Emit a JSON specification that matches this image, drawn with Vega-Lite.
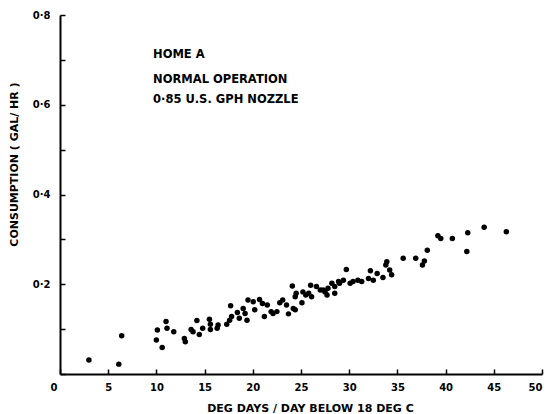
{
  "$schema": "https://vega.github.io/schema/vega-lite/v6.json",
  "width": 482,
  "height": 359,
  "autosize": {"type": "none"},
  "padding": {"left": 60, "top": 15, "right": 8, "bottom": 40},
  "background": "white",
  "config": {
    "view": {"stroke": null},
    "font": "DejaVu Sans",
    "axis": {
      "grid": false,
      "domainColor": "black",
      "domainWidth": 2,
      "tickColor": "black",
      "tickWidth": 1.5,
      "tickSize": -5,
      "labelFont": "DejaVu Sans",
      "labelFontWeight": "bold",
      "labelFontSize": 10,
      "labelColor": "black",
      "titleFont": "DejaVu Sans",
      "titleFontWeight": "bold",
      "titleFontSize": 11,
      "titleColor": "black"
    }
  },
  "datasets": {
    "runs": [
      {"dd": 3.0, "gph": 0.031}, {"dd": 6.1, "gph": 0.022}, {"dd": 6.4, "gph": 0.085},
      {"dd": 10.0, "gph": 0.076}, {"dd": 10.1, "gph": 0.098}, {"dd": 10.6, "gph": 0.059},
      {"dd": 11.0, "gph": 0.117}, {"dd": 11.1, "gph": 0.102}, {"dd": 11.8, "gph": 0.094},
      {"dd": 12.9, "gph": 0.079}, {"dd": 13.0, "gph": 0.072}, {"dd": 13.6, "gph": 0.099},
      {"dd": 13.8, "gph": 0.094}, {"dd": 14.2, "gph": 0.119}, {"dd": 14.45, "gph": 0.088},
      {"dd": 14.8, "gph": 0.102}, {"dd": 15.5, "gph": 0.122}, {"dd": 15.6, "gph": 0.111},
      {"dd": 15.6, "gph": 0.099}, {"dd": 16.3, "gph": 0.102}, {"dd": 16.4, "gph": 0.109},
      {"dd": 17.3, "gph": 0.111}, {"dd": 17.6, "gph": 0.12}, {"dd": 17.8, "gph": 0.128},
      {"dd": 17.7, "gph": 0.152}, {"dd": 18.4, "gph": 0.137}, {"dd": 18.6, "gph": 0.124},
      {"dd": 19.0, "gph": 0.146}, {"dd": 19.2, "gph": 0.135}, {"dd": 19.4, "gph": 0.12},
      {"dd": 19.5, "gph": 0.165}, {"dd": 20.05, "gph": 0.161}, {"dd": 20.2, "gph": 0.143},
      {"dd": 20.7, "gph": 0.166}, {"dd": 21.0, "gph": 0.157}, {"dd": 21.2, "gph": 0.128},
      {"dd": 21.5, "gph": 0.154}, {"dd": 21.9, "gph": 0.139}, {"dd": 22.1, "gph": 0.135},
      {"dd": 22.5, "gph": 0.139}, {"dd": 22.8, "gph": 0.159}, {"dd": 23.1, "gph": 0.165},
      {"dd": 23.5, "gph": 0.154}, {"dd": 23.7, "gph": 0.134}, {"dd": 24.1, "gph": 0.196},
      {"dd": 24.4, "gph": 0.143}, {"dd": 24.5, "gph": 0.18}, {"dd": 24.4, "gph": 0.172},
      {"dd": 24.2, "gph": 0.146}, {"dd": 25.1, "gph": 0.159}, {"dd": 25.2, "gph": 0.183},
      {"dd": 25.5, "gph": 0.176}, {"dd": 25.8, "gph": 0.18}, {"dd": 26.1, "gph": 0.172},
      {"dd": 26.0, "gph": 0.198}, {"dd": 26.6, "gph": 0.195}, {"dd": 27.0, "gph": 0.187},
      {"dd": 27.3, "gph": 0.187}, {"dd": 27.5, "gph": 0.183}, {"dd": 27.7, "gph": 0.176},
      {"dd": 27.8, "gph": 0.191}, {"dd": 28.2, "gph": 0.202}, {"dd": 28.5, "gph": 0.195},
      {"dd": 28.5, "gph": 0.18}, {"dd": 28.9, "gph": 0.206}, {"dd": 29.0, "gph": 0.202},
      {"dd": 29.4, "gph": 0.209}, {"dd": 29.7, "gph": 0.233}, {"dd": 30.1, "gph": 0.202},
      {"dd": 30.4, "gph": 0.206}, {"dd": 30.9, "gph": 0.209}, {"dd": 31.3, "gph": 0.206},
      {"dd": 32.0, "gph": 0.213}, {"dd": 32.2, "gph": 0.23}, {"dd": 32.5, "gph": 0.209},
      {"dd": 32.9, "gph": 0.224}, {"dd": 33.5, "gph": 0.215}, {"dd": 33.8, "gph": 0.243},
      {"dd": 33.9, "gph": 0.25}, {"dd": 34.2, "gph": 0.232}, {"dd": 34.4, "gph": 0.221},
      {"dd": 35.6, "gph": 0.258}, {"dd": 36.9, "gph": 0.258}, {"dd": 37.6, "gph": 0.243},
      {"dd": 37.8, "gph": 0.252}, {"dd": 38.1, "gph": 0.276}, {"dd": 39.2, "gph": 0.308},
      {"dd": 39.5, "gph": 0.302}, {"dd": 40.7, "gph": 0.302}, {"dd": 42.2, "gph": 0.273},
      {"dd": 42.3, "gph": 0.315}, {"dd": 44.0, "gph": 0.327}, {"dd": 46.3, "gph": 0.317}
    ],
    "notes": [
      {"text": "HOME  A", "dd": 9.65, "gph": 0.711},
      {"text": "NORMAL  OPERATION", "dd": 9.65, "gph": 0.655},
      {"text": "0·85  U.S.  GPH  NOZZLE", "dd": 9.65, "gph": 0.611}
    ]
  },
  "layer": [
    {
      "data": {"name": "runs"},
      "mark": {"type": "circle", "size": 30, "color": "black", "opacity": 1},
      "encoding": {
        "x": {
          "field": "dd",
          "type": "quantitative",
          "scale": {"domain": [0, 50], "nice": false},
          "axis": {
            "title": "DEG DAYS / DAY BELOW 18 DEG C",
            "values": [0, 5, 10, 15, 20, 25, 30, 35, 40, 45, 50],
            "labelPadding": 13,
            "titleX": 250,
            "titleY": 34,
            "titleBaseline": "middle",
            "titleAlign": "center",
            "labelOffset": {"condition": {"test": "datum.value == 0", "value": -10}, "value": 0}
          }
        },
        "y": {
          "field": "gph",
          "type": "quantitative",
          "scale": {"domain": [0, 0.8], "nice": false},
          "axis": {
            "title": "CONSUMPTION ( GAL/ HR )",
            "values": [0, 0.1, 0.2, 0.3, 0.4, 0.5, 0.6, 0.7, 0.8],
            "labelExpr": "datum.value > 0 && round(datum.value * 10) % 2 == 0 ? replace(format(datum.value, '.1f'), '.', '·') : ''",
            "labelPadding": 15,
            "titleX": -46,
            "titleY": 149,
            "titleAngle": -90,
            "titleBaseline": "middle",
            "titleAlign": "center"
          }
        }
      }
    },
    {
      "data": {"name": "notes"},
      "mark": {"type": "text", "align": "left", "baseline": "middle", "font": "DejaVu Sans", "fontWeight": "bold", "fontSize": 11.5, "color": "black"},
      "encoding": {
        "x": {"field": "dd", "type": "quantitative"},
        "y": {"field": "gph", "type": "quantitative"},
        "text": {"field": "text"}
      }
    }
  ]
}
